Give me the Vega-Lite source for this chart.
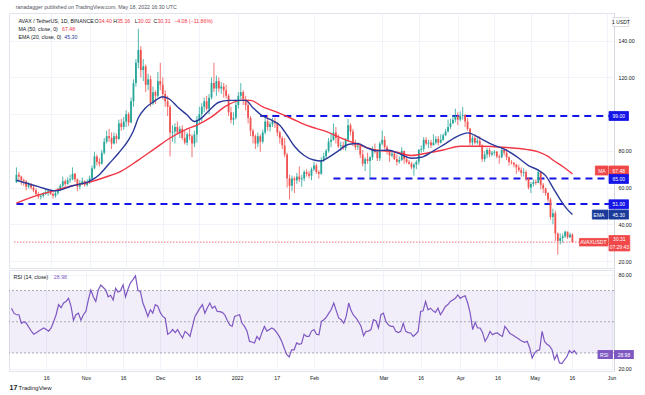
{
  "$schema": "https://vega.github.io/schema/vega-lite/v6.json",
  "background": "white",
  "padding": {"left": 8, "top": 4, "right": 4, "bottom": 2},
  "spacing": 0,
  "config": {
    "font": "Liberation Sans",
    "view": {"stroke": "#e0e3eb", "strokeWidth": 1},
    "axis": {"labelFont": "Liberation Sans", "labelFontSize": 5.25, "labelColor": "#131722", "gridColor": "#f0f3fa", "gridWidth": 1, "ticks": false, "domain": false},
    "text": {"font": "Liberation Sans"}
  },
  "datasets": {
    "k": [
      {"d":"2021-10-02","o":63,"h":71,"l":62.5,"c":67,"r":58.7},
      {"d":"2021-10-03","o":67,"h":68.5,"l":64,"c":66,"r":55.5},
      {"d":"2021-10-04","o":66,"h":66.5,"l":61.5,"c":64,"r":54.5},
      {"d":"2021-10-05","o":64,"h":65,"l":61,"c":63.5,"r":54.5},
      {"d":"2021-10-06","o":63.5,"h":64,"l":58.5,"c":60.5,"r":49},
      {"d":"2021-10-07","o":60.5,"h":63,"l":59.5,"c":61.5,"r":50},
      {"d":"2021-10-08","o":61.5,"h":62.5,"l":59,"c":60,"r":49},
      {"d":"2021-10-09","o":60,"h":61,"l":57.5,"c":58.5,"r":46.5},
      {"d":"2021-10-10","o":58.5,"h":59.5,"l":55.5,"c":56.5,"r":44},
      {"d":"2021-10-11","o":56.5,"h":57.5,"l":54,"c":55,"r":42},
      {"d":"2021-10-12","o":55,"h":56.5,"l":53.5,"c":55.5,"r":43},
      {"d":"2021-10-13","o":55.5,"h":57.5,"l":54.5,"c":56.5,"r":44},
      {"d":"2021-10-14","o":56.5,"h":59,"l":56,"c":57.5,"r":45},
      {"d":"2021-10-15","o":57.5,"h":59.5,"l":55.5,"c":58,"r":46},
      {"d":"2021-10-16","o":58,"h":59,"l":56,"c":56.5,"r":45},
      {"d":"2021-10-17","o":56.5,"h":57.5,"l":54,"c":55.5,"r":44},
      {"d":"2021-10-18","o":55.5,"h":58.5,"l":54.5,"c":57,"r":46},
      {"d":"2021-10-19","o":57,"h":60,"l":56,"c":59,"r":50},
      {"d":"2021-10-20","o":59,"h":62,"l":58,"c":61,"r":54.5},
      {"d":"2021-10-21","o":61,"h":66,"l":60,"c":63.5,"r":61},
      {"d":"2021-10-22","o":63.5,"h":64.5,"l":60.5,"c":62,"r":59},
      {"d":"2021-10-23","o":62,"h":65.5,"l":61.5,"c":64,"r":62},
      {"d":"2021-10-24","o":64,"h":67,"l":62.5,"c":64.5,"r":63},
      {"d":"2021-10-25","o":64.5,"h":71,"l":64,"c":67.5,"r":65},
      {"d":"2021-10-26","o":67.5,"h":68,"l":63,"c":64.5,"r":60},
      {"d":"2021-10-27","o":64.5,"h":65,"l":58,"c":60.5,"r":51},
      {"d":"2021-10-28","o":60.5,"h":64,"l":59,"c":62.5,"r":54.5},
      {"d":"2021-10-29","o":62.5,"h":65.5,"l":61.5,"c":63.5,"r":55.5},
      {"d":"2021-10-30","o":63.5,"h":64,"l":60.5,"c":61.5,"r":51},
      {"d":"2021-10-31","o":61.5,"h":64.5,"l":60.5,"c":63,"r":54.5},
      {"d":"2021-11-01","o":63,"h":66.5,"l":62,"c":65,"r":56.6},
      {"d":"2021-11-02","o":65,"h":72,"l":64.5,"c":70.5,"r":64},
      {"d":"2021-11-03","o":70.5,"h":79.5,"l":70,"c":77,"r":70.4},
      {"d":"2021-11-04","o":77,"h":78,"l":72,"c":74,"r":66},
      {"d":"2021-11-05","o":74,"h":76,"l":71.5,"c":73,"r":63},
      {"d":"2021-11-06","o":73,"h":80.5,"l":72.5,"c":79,"r":70.4},
      {"d":"2021-11-07","o":79,"h":87,"l":78,"c":85,"r":73.6},
      {"d":"2021-11-08","o":85,"h":91,"l":84,"c":88,"r":72},
      {"d":"2021-11-09","o":88,"h":92,"l":85,"c":87,"r":70.4},
      {"d":"2021-11-10","o":87,"h":90,"l":81,"c":84,"r":66},
      {"d":"2021-11-11","o":84,"h":90,"l":83.5,"c":88,"r":67},
      {"d":"2021-11-12","o":88,"h":89.5,"l":84,"c":86.5,"r":64},
      {"d":"2021-11-13","o":86.5,"h":97,"l":86,"c":95,"r":71.5},
      {"d":"2021-11-14","o":95,"h":97.5,"l":91,"c":93,"r":69},
      {"d":"2021-11-15","o":93,"h":98.5,"l":91.5,"c":96,"r":70},
      {"d":"2021-11-16","o":96,"h":102,"l":93,"c":100,"r":73.6},
      {"d":"2021-11-17","o":100,"h":101,"l":93.5,"c":95.5,"r":66},
      {"d":"2021-11-18","o":95.5,"h":109,"l":95,"c":107,"r":71},
      {"d":"2021-11-19","o":107,"h":119,"l":104,"c":117,"r":75},
      {"d":"2021-11-20","o":117,"h":130,"l":115,"c":128,"r":77},
      {"d":"2021-11-21","o":128,"h":146.5,"l":125,"c":135,"r":79.4},
      {"d":"2021-11-22","o":135,"h":137,"l":120,"c":124,"r":70},
      {"d":"2021-11-23","o":124,"h":130,"l":118,"c":126,"r":69.4},
      {"d":"2021-11-24","o":126,"h":127,"l":112,"c":116,"r":62},
      {"d":"2021-11-25","o":116,"h":122,"l":113,"c":119,"r":58},
      {"d":"2021-11-26","o":119,"h":121,"l":104,"c":106,"r":53.4},
      {"d":"2021-11-27","o":106,"h":115,"l":105,"c":112,"r":57.7},
      {"d":"2021-11-28","o":112,"h":113,"l":105.5,"c":110,"r":55.5},
      {"d":"2021-11-29","o":110,"h":123,"l":109,"c":118,"r":61},
      {"d":"2021-11-30","o":118,"h":128,"l":113,"c":116,"r":60},
      {"d":"2021-12-01","o":116,"h":120,"l":108,"c":111,"r":56},
      {"d":"2021-12-02","o":111,"h":113,"l":104,"c":107,"r":53.4},
      {"d":"2021-12-03","o":107,"h":110,"l":99,"c":104,"r":52.3},
      {"d":"2021-12-04","o":104,"h":105,"l":77,"c":90,"r":42},
      {"d":"2021-12-05","o":90,"h":94,"l":85,"c":90.5,"r":43},
      {"d":"2021-12-06","o":90.5,"h":95,"l":84,"c":93,"r":45},
      {"d":"2021-12-07","o":93,"h":96,"l":89,"c":90,"r":43},
      {"d":"2021-12-08","o":90,"h":93.5,"l":87,"c":92,"r":45},
      {"d":"2021-12-09","o":92,"h":94,"l":86,"c":87,"r":42},
      {"d":"2021-12-10","o":87,"h":91,"l":83.5,"c":84.5,"r":39.6},
      {"d":"2021-12-11","o":84.5,"h":90,"l":83,"c":89,"r":43.8},
      {"d":"2021-12-12","o":89,"h":92,"l":86,"c":88,"r":42.5},
      {"d":"2021-12-13","o":88,"h":89,"l":76.5,"c":84,"r":40.6},
      {"d":"2021-12-14","o":84,"h":91,"l":82,"c":89,"r":47},
      {"d":"2021-12-15","o":89,"h":99,"l":84.5,"c":97,"r":53.4},
      {"d":"2021-12-16","o":97,"h":104,"l":95,"c":100,"r":56},
      {"d":"2021-12-17","o":100,"h":106,"l":96,"c":104,"r":58.7},
      {"d":"2021-12-18","o":104,"h":109,"l":101,"c":107,"r":61},
      {"d":"2021-12-19","o":107,"h":110,"l":102,"c":103,"r":55.5},
      {"d":"2021-12-20","o":103,"h":111,"l":100,"c":109,"r":59},
      {"d":"2021-12-21","o":109,"h":120,"l":108,"c":117,"r":62},
      {"d":"2021-12-22","o":117,"h":128,"l":112,"c":114,"r":58.7},
      {"d":"2021-12-23","o":114,"h":121,"l":110,"c":118,"r":60},
      {"d":"2021-12-24","o":118,"h":120,"l":112,"c":114,"r":56.6},
      {"d":"2021-12-25","o":114,"h":117.5,"l":111,"c":115,"r":56.5},
      {"d":"2021-12-26","o":115,"h":117,"l":109,"c":113,"r":56},
      {"d":"2021-12-27","o":113,"h":116,"l":108.5,"c":110,"r":54.5},
      {"d":"2021-12-28","o":110,"h":111,"l":99,"c":101,"r":51},
      {"d":"2021-12-29","o":101,"h":104,"l":95,"c":97,"r":48},
      {"d":"2021-12-30","o":97,"h":101,"l":94,"c":98,"r":47},
      {"d":"2021-12-31","o":98,"h":108,"l":97,"c":105,"r":53.4},
      {"d":"2022-01-01","o":105,"h":112,"l":103,"c":110,"r":54},
      {"d":"2022-01-02","o":110,"h":117,"l":108,"c":112,"r":54.5},
      {"d":"2022-01-03","o":112,"h":113,"l":105,"c":108,"r":49},
      {"d":"2022-01-04","o":108,"h":110,"l":102,"c":105,"r":47},
      {"d":"2022-01-05","o":105,"h":108,"l":95,"c":98,"r":44},
      {"d":"2022-01-06","o":98,"h":99,"l":88,"c":91,"r":37.4},
      {"d":"2022-01-07","o":91,"h":92,"l":84,"c":88,"r":37},
      {"d":"2022-01-08","o":88,"h":89,"l":81,"c":84,"r":36.4},
      {"d":"2022-01-09","o":84,"h":90,"l":82,"c":88,"r":40.6},
      {"d":"2022-01-10","o":88,"h":89,"l":79.5,"c":85,"r":38.5},
      {"d":"2022-01-11","o":85,"h":91.5,"l":84,"c":90,"r":43},
      {"d":"2022-01-12","o":90,"h":98,"l":89,"c":96,"r":47},
      {"d":"2022-01-13","o":96,"h":99.5,"l":91,"c":93,"r":44},
      {"d":"2022-01-14","o":93,"h":96,"l":90.5,"c":94.5,"r":45},
      {"d":"2022-01-15","o":94.5,"h":98,"l":93,"c":96,"r":46},
      {"d":"2022-01-16","o":96,"h":98,"l":92.5,"c":95,"r":45},
      {"d":"2022-01-17","o":95,"h":95.5,"l":88,"c":90,"r":43},
      {"d":"2022-01-18","o":90,"h":91,"l":84,"c":87,"r":40.6},
      {"d":"2022-01-19","o":87,"h":88,"l":81,"c":83,"r":37.4},
      {"d":"2022-01-20","o":83,"h":87,"l":76.5,"c":78,"r":33},
      {"d":"2022-01-21","o":78,"h":79,"l":60,"c":65,"r":29},
      {"d":"2022-01-22","o":65,"h":67,"l":53.5,"c":61,"r":27.4},
      {"d":"2022-01-23","o":61,"h":66.5,"l":58,"c":65,"r":32},
      {"d":"2022-01-24","o":65,"h":66,"l":57,"c":64,"r":32},
      {"d":"2022-01-25","o":64,"h":68,"l":62,"c":66,"r":36.4},
      {"d":"2022-01-26","o":66,"h":71.5,"l":63,"c":64.5,"r":35.5},
      {"d":"2022-01-27","o":64.5,"h":67,"l":60.5,"c":65,"r":36},
      {"d":"2022-01-28","o":65,"h":69.5,"l":63.5,"c":68.5,"r":42},
      {"d":"2022-01-29","o":68.5,"h":70,"l":66,"c":67.5,"r":40.6},
      {"d":"2022-01-30","o":67.5,"h":69,"l":65,"c":66.5,"r":40.6},
      {"d":"2022-01-31","o":66.5,"h":71,"l":64,"c":70,"r":44},
      {"d":"2022-02-01","o":70,"h":74,"l":69,"c":72,"r":45},
      {"d":"2022-02-02","o":72,"h":73,"l":67.5,"c":68.5,"r":42},
      {"d":"2022-02-03","o":68.5,"h":69.5,"l":65,"c":67.5,"r":41.7},
      {"d":"2022-02-04","o":67.5,"h":76.5,"l":67,"c":75,"r":50.2},
      {"d":"2022-02-05","o":75,"h":79,"l":74,"c":77,"r":51.3},
      {"d":"2022-02-06","o":77,"h":81,"l":76,"c":80,"r":53},
      {"d":"2022-02-07","o":80,"h":87,"l":79,"c":85,"r":55.5},
      {"d":"2022-02-08","o":85,"h":90,"l":82,"c":86,"r":58},
      {"d":"2022-02-09","o":86,"h":95,"l":85.5,"c":90,"r":62},
      {"d":"2022-02-10","o":90,"h":93,"l":84,"c":87,"r":57},
      {"d":"2022-02-11","o":87,"h":89,"l":81.5,"c":82.5,"r":52.3},
      {"d":"2022-02-12","o":82.5,"h":85,"l":80,"c":83,"r":51.3},
      {"d":"2022-02-13","o":83,"h":85,"l":80.5,"c":81.5,"r":49},
      {"d":"2022-02-14","o":81.5,"h":87,"l":80,"c":86,"r":53.4},
      {"d":"2022-02-15","o":86,"h":97.5,"l":85,"c":94,"r":62},
      {"d":"2022-02-16","o":94,"h":95,"l":88.5,"c":90.5,"r":57},
      {"d":"2022-02-17","o":90.5,"h":92,"l":82.5,"c":84,"r":54},
      {"d":"2022-02-18","o":84,"h":86,"l":80.5,"c":82,"r":52.3},
      {"d":"2022-02-19","o":82,"h":84,"l":80.5,"c":82.5,"r":50},
      {"d":"2022-02-20","o":82.5,"h":83,"l":76,"c":78,"r":47},
      {"d":"2022-02-21","o":78,"h":80.5,"l":71.5,"c":73,"r":41},
      {"d":"2022-02-22","o":73,"h":76.5,"l":69,"c":75.5,"r":43.8},
      {"d":"2022-02-23","o":75.5,"h":79,"l":73,"c":74.5,"r":44},
      {"d":"2022-02-24","o":74.5,"h":77,"l":65,"c":76.5,"r":45},
      {"d":"2022-02-25","o":76.5,"h":82.5,"l":75,"c":81,"r":51.3},
      {"d":"2022-02-26","o":81,"h":84,"l":78.5,"c":79.5,"r":50.5},
      {"d":"2022-02-27","o":79.5,"h":81,"l":74.5,"c":76,"r":46},
      {"d":"2022-02-28","o":76,"h":85,"l":74.5,"c":84,"r":54.5},
      {"d":"2022-03-01","o":84,"h":91,"l":83,"c":86,"r":55.5},
      {"d":"2022-03-02","o":86,"h":88,"l":81,"c":82,"r":50.2},
      {"d":"2022-03-03","o":82,"h":83,"l":78,"c":80,"r":48},
      {"d":"2022-03-04","o":80,"h":80.5,"l":74,"c":77.5,"r":47},
      {"d":"2022-03-05","o":77.5,"h":80,"l":76.5,"c":78.5,"r":47},
      {"d":"2022-03-06","o":78.5,"h":79,"l":75,"c":75.5,"r":43.8},
      {"d":"2022-03-07","o":75.5,"h":78,"l":72,"c":74,"r":43},
      {"d":"2022-03-08","o":74,"h":77,"l":73,"c":75,"r":43.8},
      {"d":"2022-03-09","o":75,"h":82,"l":74.5,"c":80,"r":49},
      {"d":"2022-03-10","o":80,"h":80,"l":73,"c":75.5,"r":43.8},
      {"d":"2022-03-11","o":75.5,"h":77.5,"l":73,"c":74,"r":43},
      {"d":"2022-03-12","o":74,"h":75,"l":72.5,"c":73,"r":42.8},
      {"d":"2022-03-13","o":73,"h":74,"l":70,"c":71,"r":40.6},
      {"d":"2022-03-14","o":71,"h":73.5,"l":66.5,"c":72.5,"r":42},
      {"d":"2022-03-15","o":72.5,"h":75,"l":70,"c":74,"r":43.8},
      {"d":"2022-03-16","o":74,"h":81,"l":72.5,"c":80.5,"r":56.6},
      {"d":"2022-03-17","o":80.5,"h":83,"l":79,"c":81,"r":57},
      {"d":"2022-03-18","o":81,"h":87.5,"l":79.5,"c":86,"r":63},
      {"d":"2022-03-19","o":86,"h":87.5,"l":83,"c":84,"r":57.7},
      {"d":"2022-03-20","o":84,"h":86,"l":81.5,"c":84.5,"r":58.7},
      {"d":"2022-03-21","o":84.5,"h":86,"l":81.5,"c":83,"r":57},
      {"d":"2022-03-22","o":83,"h":89,"l":83,"c":84.5,"r":56},
      {"d":"2022-03-23","o":84.5,"h":88,"l":83.5,"c":86.5,"r":58.7},
      {"d":"2022-03-24","o":86.5,"h":88,"l":83,"c":84.5,"r":54.5},
      {"d":"2022-03-25","o":84.5,"h":89,"l":84,"c":86,"r":57},
      {"d":"2022-03-26","o":86,"h":89.5,"l":85.5,"c":88.5,"r":59.8},
      {"d":"2022-03-27","o":88.5,"h":92,"l":88,"c":90.5,"r":61},
      {"d":"2022-03-28","o":90.5,"h":97,"l":90,"c":93,"r":63},
      {"d":"2022-03-29","o":93,"h":97.5,"l":92,"c":95,"r":64},
      {"d":"2022-03-30","o":95,"h":99.5,"l":94.5,"c":97,"r":65},
      {"d":"2022-03-31","o":97,"h":103,"l":95.5,"c":99,"r":67.2},
      {"d":"2022-04-01","o":99,"h":101,"l":94,"c":97,"r":65},
      {"d":"2022-04-02","o":97,"h":101.5,"l":96,"c":99,"r":66},
      {"d":"2022-04-03","o":99,"h":104,"l":97,"c":99.5,"r":66.6},
      {"d":"2022-04-04","o":99.5,"h":100,"l":93,"c":96,"r":62},
      {"d":"2022-04-05","o":96,"h":98,"l":91,"c":92,"r":55.5},
      {"d":"2022-04-06","o":92,"h":92.5,"l":83,"c":84.5,"r":45},
      {"d":"2022-04-07","o":84.5,"h":88.5,"l":83,"c":87,"r":49.6},
      {"d":"2022-04-08","o":87,"h":89,"l":83.5,"c":84.5,"r":46},
      {"d":"2022-04-09","o":84.5,"h":87,"l":83.5,"c":85.5,"r":46},
      {"d":"2022-04-10","o":85.5,"h":88,"l":82,"c":83,"r":43},
      {"d":"2022-04-11","o":83,"h":83.5,"l":74,"c":75.5,"r":37.4},
      {"d":"2022-04-12","o":75.5,"h":80,"l":74,"c":78,"r":40},
      {"d":"2022-04-13","o":78,"h":81.5,"l":76,"c":80.5,"r":43.8},
      {"d":"2022-04-14","o":80.5,"h":81.5,"l":76.5,"c":78,"r":41.7},
      {"d":"2022-04-15","o":78,"h":80,"l":77,"c":79,"r":42.5},
      {"d":"2022-04-16","o":79,"h":80.5,"l":77.5,"c":79.5,"r":42.8},
      {"d":"2022-04-17","o":79.5,"h":80,"l":76,"c":77,"r":41.5},
      {"d":"2022-04-18","o":77,"h":78,"l":73,"c":76.5,"r":40.6},
      {"d":"2022-04-19","o":76.5,"h":81.5,"l":76,"c":80.5,"r":47},
      {"d":"2022-04-20","o":80.5,"h":82,"l":77.5,"c":79,"r":45},
      {"d":"2022-04-21","o":79,"h":81,"l":75,"c":76.5,"r":42.5},
      {"d":"2022-04-22","o":76.5,"h":77,"l":72,"c":74,"r":41.7},
      {"d":"2022-04-23","o":74,"h":75,"l":72.5,"c":73.5,"r":40.5},
      {"d":"2022-04-24","o":73.5,"h":74,"l":71,"c":72.5,"r":39.6},
      {"d":"2022-04-25","o":72.5,"h":73,"l":67.5,"c":71,"r":38.5},
      {"d":"2022-04-26","o":71,"h":72.5,"l":68.5,"c":69.5,"r":37.5},
      {"d":"2022-04-27","o":69.5,"h":71,"l":66,"c":68,"r":36.8},
      {"d":"2022-04-28","o":68,"h":70.5,"l":66,"c":68.5,"r":37.4},
      {"d":"2022-04-29","o":68.5,"h":69.5,"l":63.5,"c":65,"r":33.2},
      {"d":"2022-04-30","o":65,"h":65.5,"l":59,"c":60,"r":26.8},
      {"d":"2022-05-01","o":60,"h":63,"l":57,"c":62,"r":30},
      {"d":"2022-05-02","o":62,"h":64.5,"l":60.5,"c":63,"r":31.5},
      {"d":"2022-05-03","o":63,"h":64.5,"l":61.5,"c":62.5,"r":32},
      {"d":"2022-05-04","o":62.5,"h":70,"l":62.5,"c":68.5,"r":43.8},
      {"d":"2022-05-05","o":68.5,"h":69,"l":59,"c":61.5,"r":37.4},
      {"d":"2022-05-06","o":61.5,"h":62.5,"l":57,"c":59.5,"r":35.5},
      {"d":"2022-05-07","o":59.5,"h":60,"l":55.5,"c":57,"r":34.5},
      {"d":"2022-05-08","o":57,"h":57.5,"l":52,"c":53.5,"r":32},
      {"d":"2022-05-09","o":53.5,"h":54.5,"l":42.5,"c":44,"r":25.7},
      {"d":"2022-05-10","o":44,"h":48.5,"l":40,"c":46,"r":29},
      {"d":"2022-05-11","o":46,"h":47.5,"l":31,"c":35,"r":23.6},
      {"d":"2022-05-12","o":35,"h":35.5,"l":23.5,"c":31,"r":23.2},
      {"d":"2022-05-13","o":31,"h":35,"l":29,"c":32.5,"r":25.5},
      {"d":"2022-05-14","o":32.5,"h":35,"l":30,"c":33.5,"r":27.5},
      {"d":"2022-05-15","o":33.5,"h":36.5,"l":32.5,"c":36,"r":31.5},
      {"d":"2022-05-16","o":36,"h":36,"l":32,"c":33,"r":30},
      {"d":"2022-05-17","o":33,"h":35.5,"l":32.5,"c":34.4,"r":31.5},
      {"d":"2022-05-18","o":34.4,"h":35.16,"l":30.02,"c":30.31,"r":28.98}
    ],
    "ema": [
      {"d":"2021-10-02","v":64},{"d":"2021-10-11","v":60.5},{"d":"2021-10-18","v":58.2},{"d":"2021-10-25","v":61},
      {"d":"2021-11-01","v":63.5},{"d":"2021-11-05","v":67},{"d":"2021-11-09","v":73},{"d":"2021-11-13","v":79},
      {"d":"2021-11-17","v":86},{"d":"2021-11-19","v":91},{"d":"2021-11-21","v":98},{"d":"2021-11-24","v":103.5},
      {"d":"2021-11-27","v":106.5},{"d":"2021-12-01","v":109.5},{"d":"2021-12-04","v":108},{"d":"2021-12-07","v":104},
      {"d":"2021-12-11","v":99.5},{"d":"2021-12-14","v":96},{"d":"2021-12-17","v":98},{"d":"2021-12-20","v":102},
      {"d":"2021-12-24","v":106.5},{"d":"2021-12-28","v":107.5},{"d":"2022-01-01","v":107.5},{"d":"2022-01-04","v":107.5},
      {"d":"2022-01-07","v":103.5},{"d":"2022-01-11","v":99},{"d":"2022-01-15","v":96.5},{"d":"2022-01-18","v":94},
      {"d":"2022-01-21","v":88.5},{"d":"2022-01-24","v":82.5},{"d":"2022-01-28","v":77.5},{"d":"2022-02-01","v":75},
      {"d":"2022-02-04","v":74.5},{"d":"2022-02-07","v":76.5},{"d":"2022-02-11","v":80},{"d":"2022-02-15","v":83.5},
      {"d":"2022-02-19","v":84},{"d":"2022-02-23","v":81.5},{"d":"2022-02-27","v":80},{"d":"2022-03-03","v":80.5},
      {"d":"2022-03-08","v":78.5},{"d":"2022-03-13","v":76},{"d":"2022-03-17","v":76.5},{"d":"2022-03-22","v":80},
      {"d":"2022-03-27","v":84},{"d":"2022-04-01","v":88},{"d":"2022-04-05","v":89.8},{"d":"2022-04-10","v":87},
      {"d":"2022-04-15","v":83.5},{"d":"2022-04-20","v":81},{"d":"2022-04-25","v":77},{"d":"2022-04-30","v":72},
      {"d":"2022-05-04","v":69.5},{"d":"2022-05-07","v":66.5},{"d":"2022-05-10","v":60},{"d":"2022-05-13","v":53.5},
      {"d":"2022-05-16","v":48},{"d":"2022-05-18","v":45.3}
    ],
    "ma": [
      {"d":"2021-10-02","v":51.5},{"d":"2021-10-11","v":56},{"d":"2021-10-18","v":58.5},{"d":"2021-10-25","v":61},
      {"d":"2021-11-01","v":63},{"d":"2021-11-07","v":65.5},{"d":"2021-11-14","v":69},{"d":"2021-11-21","v":75},
      {"d":"2021-11-28","v":81.5},{"d":"2021-12-04","v":87},{"d":"2021-12-11","v":92},{"d":"2021-12-15","v":94},
      {"d":"2021-12-21","v":98.5},{"d":"2021-12-27","v":104.5},{"d":"2022-01-02","v":107.5},{"d":"2022-01-06","v":107.5},
      {"d":"2022-01-11","v":104},{"d":"2022-01-16","v":101.5},{"d":"2022-01-23","v":97.5},{"d":"2022-01-27","v":95},
      {"d":"2022-01-31","v":93},{"d":"2022-02-05","v":91},{"d":"2022-02-13","v":86.5},{"d":"2022-02-19","v":83.5},
      {"d":"2022-02-26","v":80.5},{"d":"2022-03-06","v":79.5},{"d":"2022-03-13","v":77.5},{"d":"2022-03-20","v":79},
      {"d":"2022-03-26","v":80.5},{"d":"2022-04-02","v":82.5},{"d":"2022-04-10","v":82.5},{"d":"2022-04-21","v":81.8},
      {"d":"2022-04-29","v":80.8},{"d":"2022-05-04","v":79.5},{"d":"2022-05-08","v":77},{"d":"2022-05-10","v":75},
      {"d":"2022-05-14","v":71.5},{"d":"2022-05-18","v":67.48}
    ],
    "lv": [
      {"p":99,"a":"2022-01-10","b":"2022-06-02"},
      {"p":65,"a":"2022-02-09","b":"2022-06-02"},
      {"p":51,"a":"2021-10-02","b":"2022-06-02"}
    ],
    "tx": [
      {"t":"2021-10-01T18:00:00Z","p":158.2,"s":"ranadagger published on TradingView.com, May 18, 2022 16:30 UTC","c":"#50535e"},
      {"t":"2021-10-02T20:00:00Z","p":150.7,"s":"AVAX / TetherUS, 1D, BINANCE","c":"#131722"},
      {"t":"2021-11-03T00:00:00Z","p":150.7,"s":"O","c":"#131722"},
      {"t":"2021-11-04T18:00:00Z","p":150.7,"s":"34.40","c":"#f23645"},
      {"t":"2021-11-10T16:00:00Z","p":150.7,"s":"H","c":"#131722"},
      {"t":"2021-11-12T07:00:00Z","p":150.7,"s":"35.16","c":"#f23645"},
      {"t":"2021-11-19T13:00:00Z","p":150.7,"s":"L","c":"#131722"},
      {"t":"2021-11-20T19:00:00Z","p":150.7,"s":"30.02","c":"#f23645"},
      {"t":"2021-11-27T04:30:00Z","p":150.7,"s":"C","c":"#131722"},
      {"t":"2021-11-28T19:30:00Z","p":150.7,"s":"30.31","c":"#f23645"},
      {"t":"2021-12-05T16:00:00Z","p":150.7,"s":"−4.08 (−11.86%)","c":"#f23645"},
      {"t":"2021-10-02T20:00:00Z","p":146.2,"s":"MA (50, close, 0)","c":"#131722"},
      {"t":"2021-10-20T17:00:00Z","p":146.2,"s":"67.48","c":"#f23645"},
      {"t":"2021-10-02T20:00:00Z","p":141.85,"s":"EMA (20, close, 0)","c":"#131722"},
      {"t":"2021-10-21T15:00:00Z","p":141.85,"s":"45.30","c":"#2b3a9a"}
    ],
    "tg": [
      {"a":"2022-06-02T00:00:00Z","b":"2022-06-10T00:00:00Z","y1":96.55,"y2":101.45,"f":"#1515e6","k":"#1515e6"},
      {"a":"2022-06-02T00:00:00Z","b":"2022-06-10T00:00:00Z","y1":66.85,"y2":71.75,"f":"#f04848","k":"#f04848"},
      {"a":"2022-05-27T10:00:00Z","b":"2022-06-01T14:00:00Z","y1":66.85,"y2":71.75,"f":"#f04848","k":"#f04848"},
      {"a":"2022-06-02T00:00:00Z","b":"2022-06-10T00:00:00Z","y1":62.25,"y2":67.15,"f":"#1515e6","k":"#1515e6"},
      {"a":"2022-06-02T00:00:00Z","b":"2022-06-10T00:00:00Z","y1":48.45,"y2":53.35,"f":"#1515e6","k":"#1515e6"},
      {"a":"2022-06-02T00:00:00Z","b":"2022-06-10T00:00:00Z","y1":42.85,"y2":47.75,"f":"#1a3a9a","k":"#1a3a9a"},
      {"a":"2022-05-26T04:00:00Z","b":"2022-06-01T14:00:00Z","y1":42.85,"y2":47.75,"f":"#1a3a9a","k":"#1a3a9a"},
      {"a":"2022-06-02T00:00:00Z","b":"2022-06-10T12:00:00Z","y1":25.5,"y2":33.9,"f":"#f04848","k":"#f04848"},
      {"a":"2022-05-20T22:00:00Z","b":"2022-06-01T14:00:00Z","y1":28.2,"y2":32.3,"f":"#f04848","k":"#f04848"},
      {"a":"2022-06-03T14:00:00Z","b":"2022-06-10T02:00:00Z","y1":147.7,"y2":152.6,"f":"#ffffff","k":"#d1d4dc"}
    ],
    "tt": [
      {"t":"2022-06-06T00:00:00Z","p":99,"s":"99.00","c":"#ffffff"},
      {"t":"2022-06-06T00:00:00Z","p":69.3,"s":"67.48","c":"#ffffff"},
      {"t":"2022-05-30T02:00:00Z","p":69.3,"s":"MA","c":"#ffffff"},
      {"t":"2022-06-06T00:00:00Z","p":64.7,"s":"65.00","c":"#ffffff"},
      {"t":"2022-06-06T00:00:00Z","p":50.9,"s":"51.00","c":"#ffffff"},
      {"t":"2022-06-06T00:00:00Z","p":45.3,"s":"45.30","c":"#ffffff"},
      {"t":"2022-05-28T22:00:00Z","p":45.3,"s":"EMA","c":"#ffffff"},
      {"t":"2022-06-06T06:00:00Z","p":31.8,"s":"30.31","c":"#ffffff"},
      {"t":"2022-06-06T06:00:00Z","p":27.6,"s":"07:29:43","c":"#ffffff"},
      {"t":"2022-05-26T14:00:00Z","p":30.25,"s":"AVAXUSDT","c":"#ffffff"},
      {"t":"2022-06-06T22:00:00Z","p":150.15,"s":"1 USDT","c":"#131722"}
    ],
    "rtg": [
      {"a":"2022-05-26T09:00:00Z","b":"2022-06-01T14:00:00Z","y1":26.1,"y2":31.85},
      {"a":"2022-06-02T00:00:00Z","b":"2022-06-10T00:00:00Z","y1":26.1,"y2":31.85}
    ],
    "rleg": [
      {"t":"2021-10-02T20:00:00Z","v":78.9,"s":"RSI (14, close)","c":"#131722"},
      {"t":"2021-10-19T02:00:00Z","v":78.9,"s":"28.98","c":"#7e57c2"}
    ],
    "rtag": [
      {"t":"2022-05-29T02:00:00Z","v":28.98,"s":"RSI"},
      {"t":"2022-06-06T00:00:00Z","v":28.98,"s":"28.98"}
    ],
    "logo": [
      {"t":"2021-10-01T06:00:00Z","v":7.4,"s":"17","z":7,"w":1},
      {"t":"2021-10-04T20:00:00Z","v":7.4,"s":"TradingView","z":6,"w":0}
    ]
  },
  "vconcat": [
    {
      "width": 605,
      "height": 255,
      "layer": [
        {
          "data": {"name": "lv"},
          "mark": {"type": "rule", "strokeWidth": 2, "strokeDash": [7, 5], "color": "#1515e6"},
          "encoding": {
            "x": {"field": "a", "type": "temporal", "title": null,
              "scale": {"type": "utc", "domain": [{"year": 2021, "month": 10, "date": 1, "utc": true}, {"year": 2022, "month": 6, "date": 2, "utc": true}]},
              "axis": {"values": [
                {"year": 2021, "month": 10, "date": 16, "utc": true},
                {"year": 2021, "month": 11, "date": 1, "utc": true},
                {"year": 2021, "month": 11, "date": 16, "utc": true},
                {"year": 2021, "month": 12, "date": 1, "utc": true},
                {"year": 2021, "month": 12, "date": 16, "utc": true},
                {"year": 2022, "month": 1, "date": 1, "utc": true},
                {"year": 2022, "month": 1, "date": 17, "utc": true},
                {"year": 2022, "month": 2, "date": 1, "utc": true},
                {"year": 2022, "month": 3, "date": 1, "utc": true},
                {"year": 2022, "month": 3, "date": 16, "utc": true},
                {"year": 2022, "month": 4, "date": 1, "utc": true},
                {"year": 2022, "month": 4, "date": 16, "utc": true},
                {"year": 2022, "month": 5, "date": 1, "utc": true},
                {"year": 2022, "month": 5, "date": 16, "utc": true},
                {"year": 2022, "month": 6, "date": 1, "utc": true}
              ], "labels": false, "ticks": false, "domain": false, "grid": true, "title": null, "labelPadding": 0, "minExtent": 0, "maxExtent": 0}},
            "x2": {"field": "b"},
            "y": {"field": "p", "type": "quantitative", "title": null,
              "scale": {"domain": [16.2, 155.1], "nice": false, "zero": false},
              "axis": {"orient": "right", "values": [20, 30, 40, 50, 60, 70, 80, 90, 100, 110, 120, 130, 140, 150],
                "labelExpr": "indexof([30, 50, 70, 100, 150], datum.value) >= 0 ? '' : format(datum.value, '.2f')",
                "grid": true, "domain": true, "domainColor": "#d6d9e0", "ticks": false, "labelPadding": 4, "title": null}}
          }
        },
        {
          "data": {"values": [{"p": 30.31, "a": "2021-10-01", "b": "2022-06-02"}]},
          "mark": {"type": "rule", "strokeWidth": 1, "strokeDash": [1.5, 1.5], "color": "#f23645", "opacity": 0.7},
          "encoding": {
            "x": {"field": "a", "type": "temporal", "title": null},
            "x2": {"field": "b"},
            "y": {"field": "p", "type": "quantitative", "title": null}
          }
        },
        {
          "data": {"name": "k"},
          "mark": {"type": "rule", "strokeWidth": 0.8},
          "encoding": {
            "x": {"field": "d", "type": "temporal", "title": null},
            "y": {"field": "l", "type": "quantitative", "title": null},
            "y2": {"field": "h"},
            "color": {"condition": {"test": "datum.c >= datum.o", "value": "#26a69a"}, "value": "#ef5350"}
          }
        },
        {
          "data": {"name": "k"},
          "mark": {"type": "bar", "width": 1.8},
          "encoding": {
            "x": {"field": "d", "type": "temporal", "title": null},
            "y": {"field": "o", "type": "quantitative", "title": null},
            "y2": {"field": "c"},
            "color": {"condition": {"test": "datum.c >= datum.o", "value": "#26a69a"}, "value": "#ef5350"}
          }
        },
        {
          "data": {"name": "ma"},
          "mark": {"type": "line", "strokeWidth": 1.4, "color": "#f23645", "interpolate": "monotone"},
          "encoding": {
            "x": {"field": "d", "type": "temporal", "title": null},
            "y": {"field": "v", "type": "quantitative", "title": null}
          }
        },
        {
          "data": {"name": "ema"},
          "mark": {"type": "line", "strokeWidth": 1.4, "color": "#2b3a9a", "interpolate": "monotone"},
          "encoding": {
            "x": {"field": "d", "type": "temporal", "title": null},
            "y": {"field": "v", "type": "quantitative", "title": null}
          }
        },
        {
          "data": {"name": "tx"},
          "mark": {"type": "text", "align": "left", "baseline": "middle", "fontSize": 5.25},
          "encoding": {
            "x": {"field": "t", "type": "temporal", "title": null},
            "y": {"field": "p", "type": "quantitative", "title": null},
            "text": {"field": "s"},
            "color": {"field": "c", "type": "nominal", "scale": null}
          }
        },
        {
          "data": {"name": "tg"},
          "mark": {"type": "rect", "strokeWidth": 0.8},
          "encoding": {
            "x": {"field": "a", "type": "temporal", "title": null},
            "x2": {"field": "b"},
            "y": {"field": "y1", "type": "quantitative", "title": null},
            "y2": {"field": "y2"},
            "fill": {"field": "f", "type": "nominal", "scale": null},
            "stroke": {"field": "k", "type": "nominal", "scale": null}
          }
        },
        {
          "data": {"name": "tt"},
          "mark": {"type": "text", "align": "center", "baseline": "middle", "fontSize": 5},
          "encoding": {
            "x": {"field": "t", "type": "temporal", "title": null},
            "y": {"field": "p", "type": "quantitative", "title": null},
            "text": {"field": "s"},
            "color": {"field": "c", "type": "nominal", "scale": null}
          }
        }
      ]
    },
    {
      "width": 605,
      "height": 101,
      "layer": [
        {
          "data": {"values": [{"a": 30, "b": 70}]},
          "mark": {"type": "rect", "color": "#7e57c2", "opacity": 0.1},
          "encoding": {
            "y": {"field": "a", "type": "quantitative", "title": null,
              "scale": {"domain": [18.4, 83.2], "nice": false, "zero": false},
              "axis": {"orient": "right", "values": [20, 30, 40, 50, 60, 70, 80],
                "labelExpr": "datum.value == 30 ? '' : format(datum.value, '.2f')",
                "grid": true, "domain": true, "domainColor": "#d6d9e0", "ticks": false, "labelPadding": 4, "title": null}},
            "y2": {"field": "b"}
          }
        },
        {
          "data": {"values": [{"v": 70}, {"v": 50}, {"v": 30}]},
          "mark": {"type": "rule", "strokeWidth": 0.8, "strokeDash": [2, 2], "color": "#9598a1"},
          "encoding": {
            "y": {"field": "v", "type": "quantitative", "title": null}
          }
        },
        {
          "data": {"name": "k"},
          "mark": {"type": "line", "strokeWidth": 1.2, "color": "#7e57c2"},
          "encoding": {
            "x": {"field": "d", "type": "temporal", "title": null,
              "scale": {"type": "utc", "domain": [{"year": 2021, "month": 10, "date": 1, "utc": true}, {"year": 2022, "month": 6, "date": 2, "utc": true}]},
              "axis": {"values": [
                {"year": 2021, "month": 10, "date": 16, "utc": true},
                {"year": 2021, "month": 11, "date": 1, "utc": true},
                {"year": 2021, "month": 11, "date": 16, "utc": true},
                {"year": 2021, "month": 12, "date": 1, "utc": true},
                {"year": 2021, "month": 12, "date": 16, "utc": true},
                {"year": 2022, "month": 1, "date": 1, "utc": true},
                {"year": 2022, "month": 1, "date": 17, "utc": true},
                {"year": 2022, "month": 2, "date": 1, "utc": true},
                {"year": 2022, "month": 3, "date": 1, "utc": true},
                {"year": 2022, "month": 3, "date": 16, "utc": true},
                {"year": 2022, "month": 4, "date": 1, "utc": true},
                {"year": 2022, "month": 4, "date": 16, "utc": true},
                {"year": 2022, "month": 5, "date": 1, "utc": true},
                {"year": 2022, "month": 5, "date": 16, "utc": true},
                {"year": 2022, "month": 6, "date": 1, "utc": true}
              ],
              "labelExpr": "utcdate(datum.value) == 1 ? (utcmonth(datum.value) == 0 ? utcFormat(datum.value, '%Y') : utcFormat(datum.value, '%b')) : utcFormat(datum.value, '%-d')",
              "labelFlush": false, "labelOverlap": false, "labelPadding": 4, "ticks": false, "domain": false, "grid": true, "title": null}},
            "y": {"field": "r", "type": "quantitative", "title": null}
          }
        },
        {
          "data": {"name": "rtg"},
          "mark": {"type": "rect", "color": "#7e57c2"},
          "encoding": {
            "x": {"field": "a", "type": "temporal", "title": null},
            "x2": {"field": "b"},
            "y": {"field": "y1", "type": "quantitative", "title": null},
            "y2": {"field": "y2"}
          }
        },
        {
          "data": {"name": "rleg"},
          "mark": {"type": "text", "align": "left", "baseline": "middle", "fontSize": 5.25},
          "encoding": {
            "x": {"field": "t", "type": "temporal", "title": null},
            "y": {"field": "v", "type": "quantitative", "title": null},
            "text": {"field": "s"},
            "color": {"field": "c", "type": "nominal", "scale": null}
          }
        },
        {
          "data": {"name": "rtag"},
          "mark": {"type": "text", "align": "center", "baseline": "middle", "fontSize": 5, "color": "#ffffff"},
          "encoding": {
            "x": {"field": "t", "type": "temporal", "title": null},
            "y": {"field": "v", "type": "quantitative", "title": null},
            "text": {"field": "s"}
          }
        },
        {
          "data": {"name": "logo"},
          "transform": [{"filter": "datum.w == 1"}],
          "mark": {"type": "text", "align": "left", "baseline": "middle", "fontSize": 7, "fontWeight": "bold", "color": "#131722"},
          "encoding": {
            "x": {"field": "t", "type": "temporal", "title": null},
            "y": {"field": "v", "type": "quantitative", "title": null},
            "text": {"field": "s"}
          }
        },
        {
          "data": {"name": "logo"},
          "transform": [{"filter": "datum.w == 0"}],
          "mark": {"type": "text", "align": "left", "baseline": "middle", "fontSize": 6, "color": "#131722"},
          "encoding": {
            "x": {"field": "t", "type": "temporal", "title": null},
            "y": {"field": "v", "type": "quantitative", "title": null},
            "text": {"field": "s"}
          }
        }
      ]
    }
  ]
}
